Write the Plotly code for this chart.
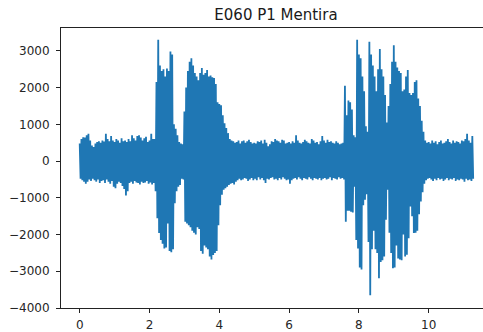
import plotly.graph_objects as go

title_text = "E060 P1 Mentira"
step = 0.05  # seconds between envelope readings

upper = [
    480, 600, 650, 640, 700, 740, 560, 420, 380, 480, 520, 540, 500, 560, 530, 740, 600, 540, 680, 560,
    520, 600, 560, 500, 620, 540, 560, 520, 600, 540, 700, 620, 560, 680, 700, 640, 560, 620, 660, 520,
    560, 740, 600, 600, 2150, 3300, 2600, 2450, 2500, 2300, 2520, 2450, 2980, 2900, 1000, 880, 700, 520, 480, 460,
    1350, 2000, 2450, 2700, 2800, 2600, 2400, 2300, 2200, 2400, 2530, 2350, 2400, 2480, 2300, 2330, 2280, 2260, 2100, 1600,
    1550, 1520, 1250, 1030, 900, 760, 600, 560, 540, 500, 520, 560, 480, 540, 560, 500, 540, 580, 520, 480,
    500, 480, 540, 520, 560, 480, 580, 500, 400, 460, 540, 520, 600, 560, 540, 500, 580, 560, 480, 500,
    520, 480, 540, 500, 700, 560, 500, 480, 520, 580, 540, 500, 480, 600, 560, 500, 520, 460, 540, 680,
    560, 500, 580, 520, 540, 500, 480, 540, 500, 460, 480, 500, 2050, 1250, 1650, 1600, 1400, 700, 650, 3300,
    2900, 2800, 2300, 1900, 950, 800, 3250, 2900, 2600, 2300, 1900, 2500, 3050, 2500, 2300, 1800, 1050, 1500, 2100, 2700,
    3150, 2700, 2550, 2450, 2400, 1900, 1950, 2300, 2480, 1850, 1800, 1850, 2150, 2200, 1700, 1500, 1100, 800, 560, 500,
    520, 480, 560, 500, 540, 460, 520, 560, 480, 500, 540, 600, 520, 480, 560, 500, 540, 520, 480, 560,
    540, 600, 740, 560, 500, 680,
]

lower = [
    -480, -520, -560, -620, -560, -500, -540, -480, -520, -560, -500, -600, -540, -520, -600, -500, -560, -620, -540, -700,
    -740, -620, -560, -600, -680, -760, -940, -820, -600, -560, -620, -540, -580, -600, -640, -560, -600, -580, -540, -620,
    -580, -640, -600, -820, -1560, -1960, -2150, -2250, -2380, -2350, -1700, -2450, -2480, -2400, -1150, -820, -700, -650, -480, -500,
    -1650, -1700, -1750, -1800, -1900, -1950, -2000, -1800, -1850, -2450, -2520, -2300, -2350, -2400, -2600, -2680, -2560, -2500, -2450, -1750,
    -1200, -920, -780, -740, -700, -650, -620, -600, -640, -560, -520, -480, -520, -500, -460, -480, -540, -500, -460, -520,
    -480, -520, -440, -500, -460, -520, -600, -480, -500, -460, -440, -500, -480, -520, -460, -500, -440, -480, -520, -500,
    -620, -520, -480, -460, -500, -440, -480, -520, -460, -480, -500, -440, -480, -520, -460, -480, -500, -460, -520, -480,
    -460, -500, -480, -440, -520, -460, -480, -500, -440, -480, -460, -500, -1650, -1350, -1350, -1380, -1400, -700, -2150, -2380,
    -2900, -2950, -1200, -1050, -900, -2200, -3650, -2400, -1900, -2400, -2500, -3190, -2750, -2700, -2600, -1600, -780, -1950, -2500, -2920,
    -2900, -2300, -2650, -2680, -2700, -2000, -2600, -2550, -2100, -1240, -1500, -1960, -1950, -1900, -1450, -1100, -850, -620, -520, -480,
    -460, -500, -540, -480, -520, -460, -500, -480, -540, -500, -460, -520, -480, -500, -460, -540, -500, -520, -480, -500,
    -560, -480, -520, -500, -540, -480,
]

x_ticks = [0, 2, 4, 6, 8, 10]
y_ticks = [-4000, -3000, -2000, -1000, 0, 1000, 2000, 3000]

# interleave envelope readings so the line sweeps between them like a waveform
xs, ys = [], []
for i, (u, l) in enumerate(zip(upper, lower)):
    xs.append(i * step)
    ys.append(u)
    xs.append(i * step + step / 2)
    ys.append(l)

fig = go.Figure()
fig.add_trace(go.Scatter(x=xs, y=ys, mode="lines",
                         line=dict(color="#1f77b4", width=1.8),
                         hoverinfo="skip", showlegend=False))

font_family = "DejaVu Sans"
fig.update_layout(
    width=483, height=332,
    margin=dict(l=61, r=0, t=28, b=22),
    paper_bgcolor="white", plot_bgcolor="white",
    title=dict(text=title_text, font=dict(family=font_family, size=15, color="#1a1a1a"),
               xref="container", x=276 / 483, xanchor="center",
               yref="container", y=1 - 15 / 332, yanchor="middle"),
    font=dict(family=font_family, size=12, color="#262626"),
)
fig.update_xaxes(range=[-0.536, 11.556], tickvals=x_ticks, ticktext=[str(v) for v in x_ticks],
                 showgrid=False, zeroline=False, showline=True, mirror=True,
                 linecolor="#222", linewidth=1, ticks="outside", ticklen=4,
                 tickcolor="#222", tickwidth=1, ticklabelstandoff=2)
fig.update_yaxes(range=[-4000, 3622], tickvals=y_ticks,
                 ticktext=[("\u2212" + str(-v)) if v < 0 else str(v) for v in y_ticks],
                 showgrid=False, zeroline=False, showline=True, mirror=False,
                 linecolor="#222", linewidth=1, ticks="outside", ticklen=4,
                 tickcolor="#222", tickwidth=1, ticklabelstandoff=4)

fig.write_html("out.html")
